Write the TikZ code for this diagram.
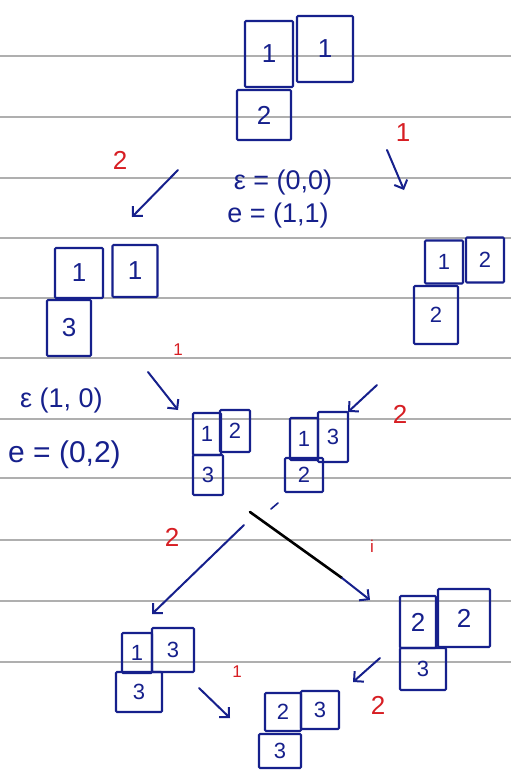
\documentclass[tikz,border=0pt]{standalone}
\usepackage{fontspec}
\setmainfont{Liberation Sans}
\usetikzlibrary{arrows.meta}
\definecolor{ink}{RGB}{22,32,140}
\definecolor{redink}{RGB}{215,30,35}
\definecolor{rule}{RGB}{175,175,175}
\tikzset{
  cell/.style={draw=ink, line width=2.1pt, text=ink, inner sep=0pt,
    font=\fontsize{26}{26}\selectfont, rounded corners=1pt},
  scell/.style={cell, font=\fontsize{22}{22}\selectfont},
  lbl/.style={text=redink, font=\fontsize{26}{26}\selectfont},
  slbl/.style={text=redink, font=\fontsize{17}{17}\selectfont},
  eq/.style={text=ink, font=\fontsize{27}{27}\selectfont, inner sep=0pt},
  arr/.style={draw=ink, line width=2pt, line cap=round, -{Straight Barb[length=7pt,width=14pt,line width=2pt]}},
  paperline/.style={draw=rule, line width=1.2pt}
}
\begin{document}
\begin{tikzpicture}[x=1pt,y=-1pt]
\useasboundingbox (0,0) rectangle (511,771);
\fill[white] (0,0) rectangle (511,771);
% ruled paper
\foreach \yy in {56,117,178,238,298,358,419,478,540,601,662}
  \draw[paperline] (0,\yy) -- (511,\yy);

% top tableau
\node[cell, minimum width=48pt, minimum height=66pt] (a11) at (269,54) {1};
\node[cell, minimum width=56pt, minimum height=66pt] (a12) at (325,49) {1};
\node[cell, minimum width=54pt, minimum height=50pt] (a21) at (264,115) {2};

\node[lbl] (r1) at (403,133) {1};
\coordinate (s1) at (387,150);
\coordinate (e1) at (404,190);
\draw[arr] (s1) -- (e1);
\node[lbl] (r2) at (120,160) {2};
\coordinate (s2) at (178,170);
\coordinate (e2) at (132,217);
\draw[arr] (s2) -- (e2);
\node[eq] (eps1) at (283,183) {ε = (0,0)};
\node[eq] (ee1) at (278,216) {e = (1,1)};

% left second tableau
\node[cell, minimum width=48pt, minimum height=50pt] (b11) at (79,273) {1};
\node[cell, minimum width=45pt, minimum height=52pt] (b12) at (135,271) {1};
\node[cell, minimum width=44pt, minimum height=56pt] (b21) at (69,328) {3};

% right second tableau
\node[scell, minimum width=38pt, minimum height=43pt] (c11) at (444,262) {1};
\node[scell, minimum width=38pt, minimum height=45pt] (c12) at (485,260) {2};
\node[scell, minimum width=44pt, minimum height=58pt] (c21) at (436,315) {2};

% middle
\node[slbl] (r3) at (178,350) {1};
\coordinate (s3) at (148,372);
\coordinate (e3) at (178,410);
\draw[arr] (s3) -- (e3);
\node[eq, anchor=west] (eps2) at (20,401) {ε (1, 0)};
\node[eq, anchor=west, font=\fontsize{30}{30}\selectfont] (ee2) at (8,455) {e = (0,2)};

\node[scell, minimum width=28pt, minimum height=42pt] (d11) at (207,434) {1};
\node[scell, minimum width=30pt, minimum height=42pt] (d12) at (235,431) {2};
\node[scell, minimum width=30pt, minimum height=40pt] (d21) at (208,475) {3};

\node[scell, minimum width=28pt, minimum height=42pt] (f11) at (304,439) {1};
\node[scell, minimum width=30pt, minimum height=50pt] (f12) at (333,437) {3};
\node[scell, minimum width=38pt, minimum height=34pt] (f21) at (304,475) {2};

\coordinate (s4) at (377,385);
\coordinate (e4) at (348,412);
\draw[arr] (s4) -- (e4);
\node[lbl] (r4) at (400,414) {2};

% split
\coordinate (j) at (250,512);
\coordinate (jl) at (244,525);
\coordinate (el) at (152,614);
\draw[arr] (jl) -- (el);
\node[lbl] (r5) at (172,537) {2};
\coordinate (em) at (342,578);
\coordinate (er) at (370,600);
\draw[black, line width=2.6pt, line cap=round] (j) -- (em);
\draw[arr] (em) -- (er);
\draw[ink, line width=1.6pt, line cap=round] (271,509) -- (278,503);
\node[slbl] (r6) at (372,546) {i};

% bottom left tableau
\node[scell, minimum width=30pt, minimum height=40pt] (g11) at (137,653) {1};
\node[scell, minimum width=42pt, minimum height=44pt] (g12) at (173,650) {3};
\node[scell, minimum width=46pt, minimum height=40pt] (g21) at (139,692) {3};

\node[slbl] (r7) at (237,672) {1};
\coordinate (s7) at (199,688);
\coordinate (e7) at (230,718);
\draw[arr] (s7) -- (e7);

% bottom right tableau
\node[cell, minimum width=36pt, minimum height=52pt] (h11) at (418,622) {2};
\node[cell, minimum width=52pt, minimum height=58pt] (h12) at (464,618) {2};
\node[scell, minimum width=46pt, minimum height=42pt] (h21) at (423,669) {3};

\coordinate (s8) at (380,658);
\coordinate (e8) at (353,682);
\draw[arr] (s8) -- (e8);
\node[lbl] (r8) at (378,705) {2};

% bottom center tableau
\node[scell, minimum width=36pt, minimum height=38pt] (k11) at (283,712) {2};
\node[scell, minimum width=38pt, minimum height=38pt] (k12) at (320,710) {3};
\node[scell, minimum width=42pt, minimum height=34pt] (k21) at (280,751) {3};
\end{tikzpicture}
\end{document}
